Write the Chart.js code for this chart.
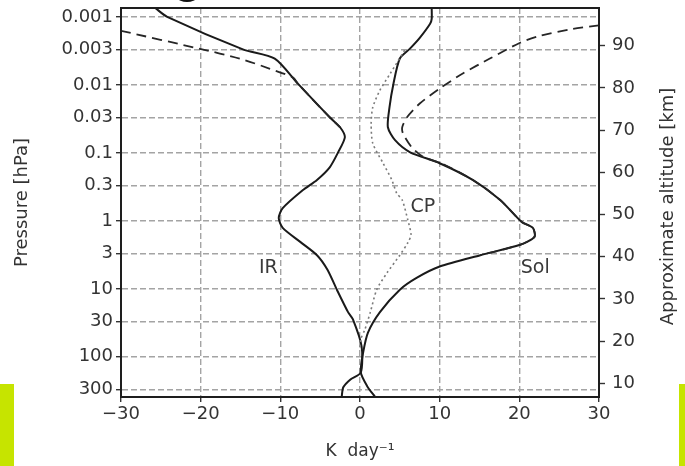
<!DOCTYPE html>
<html lang="en">
<head>
  <meta charset="UTF-8" />
  <title>Heating rates</title>
  <style>
    body {
      margin: 0;
      background: #fff;
      font-family: 'DejaVu Sans', sans-serif;
    }
    .wrap {
      position: relative;
      width: 685px;
      height: 466px;
      overflow: hidden;
    }
    .bar {
      position: absolute;
      background: #c6e400;
      top: 384px;
      height: 82px;
    }
    .blob {
      position: absolute;
      left: 178px;
      top: -6px;
      width: 18px;
      height: 8px;
      border-radius: 50%;
      background: #111;
    }
  </style>
</head>
<body>
  <div class="wrap">
    <canvas id="chart" width="685" height="466"></canvas>
    <div class="bar" style="left:0;width:14px;"></div>
    <div class="bar" style="left:679px;width:6px;"></div>
    <div class="blob"></div>
  </div>

  <script src="https://cdn.jsdelivr.net/npm/chart.js"></script>
  <script>
    // pressure (hPa) and heating rate (K/day)
    const irP = [0.00074, 0.001, 0.003, 0.0041, 0.0096, 0.030, 0.042, 0.059, 0.101, 0.163, 0.25, 0.355, 0.65, 0.91, 1.27, 2.04, 3.2, 5.2, 10.3, 22, 28, 70, 170, 215, 280, 390];
    const irK = [-25.7, -24.2, -14.7, -10.7, -7.8, -3.8, -2.5, -1.9, -2.8, -3.8, -5.4, -7.2, -9.7, -10.2, -9.7, -7.5, -5.4, -4.1, -2.9, -1.5, -0.9, 0.2, 0.1, -1.2, -2.1, -2.3];

    const solP = [0.00074, 0.00107, 0.00126, 0.00203, 0.0029, 0.0041, 0.0096, 0.0215, 0.042, 0.065, 0.098, 0.142, 0.252, 0.494, 1.04, 1.27, 1.72, 2.25, 3.2, 4.7, 6.9, 10.3, 22, 44, 86, 170, 270, 390];
    const solK = [9.0, 9.0, 8.8, 7.5, 6.3, 5.0, 4.2, 3.7, 3.5, 4.4, 6.3, 10.0, 14.2, 17.6, 20.3, 21.7, 21.9, 20.1, 15.1, 10.0, 7.1, 5.0, 2.5, 1.0, 0.4, 0.1, 0.9, 1.9];

    const irAltP = [0.0016, 0.00295, 0.0041, 0.0058, 0.0078, 0.0096, 0.030, 0.042];
    const irAltK = [-30, -20.1, -15.1, -11.3, -8.4, -7.8, -3.8, -2.5];

    const solAltP = [0.00133, 0.0015, 0.0019, 0.0024, 0.0041, 0.0068, 0.0113, 0.0188, 0.030, 0.042, 0.052, 0.083, 0.116, 0.142, 0.252, 0.494, 1.04, 1.27, 1.72, 2.25, 3.2];
    const solAltK = [30, 26.7, 22.6, 20.1, 16.3, 12.9, 10.0, 7.5, 5.9, 5.3, 5.4, 6.5, 8.0, 10.2, 14.2, 17.6, 20.3, 21.7, 21.9, 20.1, 15.1];

    const cpP = [0.0031, 0.0068, 0.012, 0.0215, 0.037, 0.072, 0.142, 0.25, 0.39, 0.494, 0.97, 1.6, 2.1, 3.2, 5.8, 10.3, 22, 40, 55, 80];
    const cpK = [5.6, 3.8, 2.5, 1.6, 1.4, 1.6, 2.9, 4.0, 4.6, 5.3, 6.0, 6.4, 6.0, 5.0, 3.4, 2.1, 1.3, 0.6, 0.1, 0.0];

    const pressureTicks = [0.001, 0.003, 0.01, 0.03, 0.1, 0.3, 1, 3, 10, 30, 100, 300];
    const altitudeTicks = [10, 20, 30, 40, 50, 60, 70, 80, 90];
    const curveLabels = [
      { text: 'IR', x: -11.5, y: 4.9 },
      { text: 'CP', x: 7.9, y: 0.63 },
      { text: 'Sol', x: 22, y: 4.9 }
    ];

    const pMin = 0.00074, pMax = 390;
    // approximate altitude: z = alt1 - kmPerDecade * log10(p)
    const alt1 = 48.5, kmPerDecade = 16.12;
    const altOf = p => alt1 - kmPerDecade * Math.log10(p);

    const pts = (P, K) => P.map((p, i) => ({ x: K[i], y: p }));
    const font = { family: "'DejaVu Sans', sans-serif", size: 18 };
    const ink = '#333';
    const gridOpts = { color: '#a4a4a4', lineWidth: 1.4, tickColor: '#333', tickLength: 5, tickBorderDash: [], tickWidth: 1.4 };

    const framePlugin = {
      id: 'frame',
      afterDatasetsDraw(chart) {
        const { ctx, chartArea: a, scales } = chart;
        ctx.save();
        ctx.strokeStyle = '#1e1e1e';
        ctx.lineWidth = 2;
        ctx.strokeRect(a.left, a.top, a.right - a.left, a.bottom - a.top);
        ctx.fillStyle = '#3a3a3a';
        ctx.font = "19px 'DejaVu Sans', sans-serif";
        ctx.textAlign = 'center';
        ctx.textBaseline = 'middle';
        curveLabels.forEach(l => {
          ctx.fillText(l.text, scales.x.getPixelForValue(l.x), scales.y.getPixelForValue(l.y));
        });
        // right axis title, reading bottom to top
        ctx.fillStyle = ink;
        ctx.font = "18px 'DejaVu Sans', sans-serif";
        ctx.translate(668, (a.top + a.bottom) / 2 + 4);
        ctx.rotate(-Math.PI / 2);
        ctx.fillText('Approximate altitude [km]', 0, 0);
        ctx.restore();
      }
    };

    const noPad = s => { s.paddingTop = 0; s.paddingBottom = 0; s.paddingLeft = 0; s.paddingRight = 0; };

    new Chart(document.getElementById('chart'), {
      type: 'scatter',
      data: {
        datasets: [
          { data: pts(cpP, cpK), borderColor: '#7a7a7a', borderWidth: 1.6, borderDash: [2, 3] },
          { data: pts(irAltP, irAltK), borderColor: '#262626', borderWidth: 1.8, borderDash: [10, 6] },
          { data: pts(solAltP, solAltK), borderColor: '#262626', borderWidth: 1.8, borderDash: [10, 6] },
          { data: pts(irP, irK), borderColor: '#1a1a1a', borderWidth: 2 },
          { data: pts(solP, solK), borderColor: '#1a1a1a', borderWidth: 2 }
        ].map(d => Object.assign(d, { showLine: true, pointRadius: 0, tension: 0.25, fill: false }))
      },
      options: {
        responsive: false,
        animation: false,
        layout: { padding: { top: 8, left: 0, right: 0, bottom: 0 } },
        plugins: { legend: { display: false }, tooltip: { enabled: false } },
        scales: {
          x: {
            type: 'linear',
            min: -30,
            max: 30,
            grid: gridOpts,
            border: { display: true, color: '#1e1e1e', width: 2, dash: [6, 3] },
            ticks: {
              stepSize: 10,
              color: ink,
              font: font,
              padding: 2,
              maxRotation: 0,
              callback: v => String(v).replace('-', '\u2212')
            },
            title: { display: true, text: 'K  day\u207B\u00B9', color: ink, font: { family: font.family, size: 17 }, padding: { top: 0, bottom: 4 } },
            afterFit: s => { s.height = 69; noPad(s); }
          },
          y: {
            type: 'logarithmic',
            position: 'left',
            reverse: true,
            min: pMin,
            max: pMax,
            grid: gridOpts,
            border: { display: true, color: '#1e1e1e', width: 2, dash: [6, 3] },
            afterBuildTicks: s => { s.ticks = pressureTicks.map(v => ({ value: v })); },
            ticks: { color: ink, font: font, padding: 3, autoSkip: false, callback: v => String(v) },
            title: { display: true, text: 'Pressure [hPa]', color: ink, font: font, padding: { top: 12, bottom: 0 } },
            afterFit: s => { s.width = 121; noPad(s); }
          },
          y2: {
            type: 'linear',
            position: 'right',
            min: altOf(pMax),
            max: altOf(pMin),
            grid: { drawOnChartArea: false, tickColor: '#333', tickLength: 6, tickWidth: 1.4 },
            border: { display: true, color: '#1e1e1e', width: 2 },
            afterBuildTicks: s => { s.ticks = altitudeTicks.map(v => ({ value: v })); },
            ticks: { color: ink, font: font, padding: 7, autoSkip: false },
            afterFit: s => { s.width = 86; noPad(s); }
          }
        }
      },
      plugins: [framePlugin]
    });
  </script>
</body>
</html>
